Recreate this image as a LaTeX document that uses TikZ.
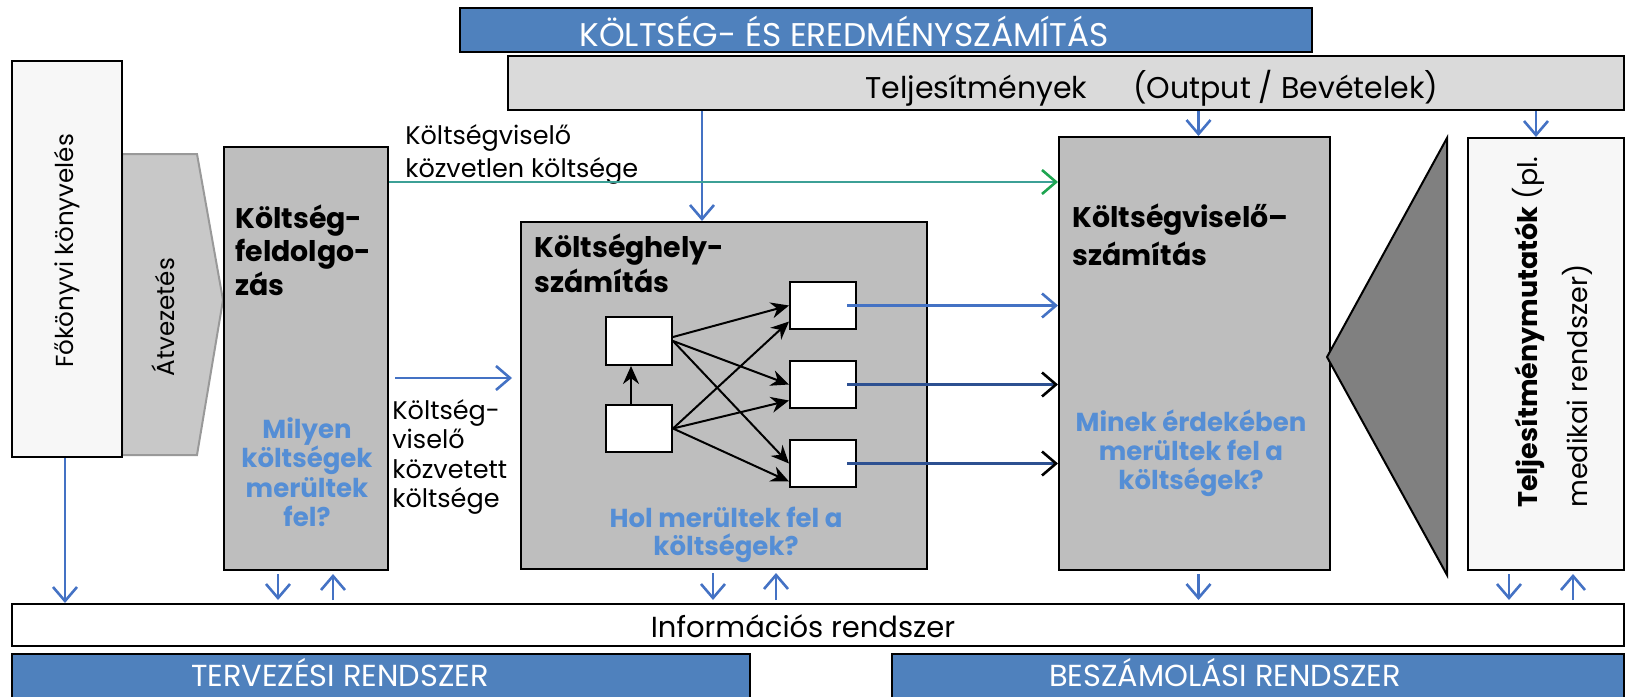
\documentclass[tikz,border=0pt]{standalone}
\usepackage{fontspec}
\setmainfont{Poppins}
\usepackage{tikz}
\usetikzlibrary{arrows.meta,fit}
\definecolor{hdrblue}{RGB}{79,129,189}
\definecolor{arrowblue}{RGB}{68,114,196}
\definecolor{qblue}{RGB}{85,142,213}
\definecolor{boxgray}{RGB}{190,190,190}
\definecolor{bargray}{RGB}{218,218,218}
\definecolor{paper}{RGB}{247,247,247}
\definecolor{atvgray}{RGB}{200,200,200}
\definecolor{trigray}{RGB}{128,128,128}
\definecolor{tealline}{RGB}{60,160,150}
\definecolor{arrowgreen}{RGB}{30,165,80}
\definecolor{darkblue}{RGB}{45,80,145}

\begin{document}
\begin{tikzpicture}[x=0.5pt,y=-0.5pt,
  cellbox/.style={draw=black, line width=1pt, inner sep=0pt},
  graybox/.style={cellbox, fill=boxgray},
  lightbox/.style={cellbox, fill=paper},
  bluebox/.style={cellbox, fill=hdrblue},
  smallbox/.style={cellbox, fill=white},
  capsfont/.style={text=white, inner sep=0pt, font=\fontsize{15.2}{18}\selectfont},
  ttl/.style={anchor=north west, align=left, inner sep=0pt, font=\fontsize{14.2}{#1}\selectfont\bfseries},
  quest/.style={anchor=north, align=center, inner sep=0pt, text=qblue, font=\fontsize{13}{#1}\selectfont\bfseries},
  lbl/.style={anchor=north west, align=left, inner sep=0pt, font=\fontsize{12.75}{#1}\selectfont},
  vtext/.style={rotate=90, inner sep=0pt, font=\fontsize{12.3}{14}\selectfont},
  infoarrow/.style={draw=arrowblue, line width=1.3pt, -{Straight Barb[length=7pt,width=12pt]}},
  darkarrow/.style={draw=darkblue, line width=1.3pt, -{Straight Barb[length=7pt,width=12pt,color=black]}},
  greenarrow/.style={draw=tealline, line width=1.3pt, -{Straight Barb[length=7pt,width=12pt,color=arrowgreen]}},
  flowarrow/.style={draw=black, line width=1pt, -{Stealth[length=9pt,width=8pt]}},
  bothgap/.style={shorten <=1.5pt, shorten >=1.5pt}
]
\useasboundingbox (0,0) rectangle (1627,696);

% Header and output bar
\node[bluebox, fit={(460,8) (1312,52)}] (hdr) {};
\node[capsfont, font=\fontsize{16.4}{18}\selectfont] (hdrT) at (844,31) {KÖLTSÉG- ÉS EREDMÉNYSZÁMÍTÁS};
\node[cellbox, fill=bargray, fit={(508,56) (1624,110)}] (bar) {};
\node[anchor=west, inner sep=0pt, font=\fontsize{15}{18}\selectfont] (barT) at (865,88) {Teljesítmények\hspace{23pt}(Output / Bevételek)};

% General ledger and transfer
\draw[draw=black!40, fill=atvgray, line width=1pt] (122,154) -- (197,154) -- (223,300) -- (197,455) -- (122,455) -- cycle;
\node[lightbox, fit={(12,61) (122,457)}] (fokonyv) {};
\node[vtext] (fokonyvT) at (67,251) {Főkönyvi könyvelés};
\node[vtext] (atvT) at (163,317) {Átvezetés};

% Cost processing
\node[graybox, fit={(224,147) (388,570)}] (kfeld) {};
\node[ttl=16.75] (kfeldT) at (235,204) {Költség-\\feldolgo-\\zás};
\node[quest=14.7] (kfeldQ) at (307,417) {Milyen\\költségek\\merültek\\fel?};

% Labels between the boxes
\node[lbl=16.5] (directL) at (405,124) {Költségviselő\\közvetlen költsége};
\node[lbl=14.7] (indirectL) at (392,399) {Költség-\\viselő\\közvetett\\költsége};

% Cost centre accounting
\node[graybox, fit={(521,222) (927,569)}] (khely) {};
\node[ttl=17.5] (khelyT) at (534,233) {Költséghely-\\számítás};
\node[quest=14] (khelyQ) at (726,507) {Hol merültek fel a\\költségek?};
\node[smallbox, fit={(606,317) (672,365)}] (aux1) {};
\node[smallbox, fit={(606,405) (672,452)}] (aux2) {};
\node[smallbox, fit={(790,282) (856,329)}] (main1) {};
\node[smallbox, fit={(790,361) (856,408)}] (main2) {};
\node[smallbox, fit={(790,440) (856,487)}] (main3) {};
\draw[flowarrow] ([xshift=-4pt]aux2.north) -- ([xshift=-4pt]aux1.south);
\draw[flowarrow] ([yshift=2pt]aux1.east) -- (main1.west);
\draw[flowarrow] (aux1.east) -- (main2.west);
\draw[flowarrow] (aux1.east) -- (main3.west);
\draw[flowarrow] (aux2.east) -- ([yshift=-8pt]main1.west);
\draw[flowarrow] (aux2.east) -- ([yshift=-8pt]main2.west);
\draw[flowarrow] (aux2.east) -- ([yshift=-9pt]main3.west);

% Cost unit accounting
\node[graybox, fit={(1059,137) (1330,570)}] (kvisel) {};
\node[ttl=19] (kviselT) at (1072,203) {Költségviselő–\\számítás};
\node[quest=14.5] (kviselQ) at (1191,409) {Minek érdekében\\merültek fel a\\költségek?};
\draw[draw=black, line width=1pt, fill=trigray] (1447,138) -- (1327,357) -- (1447,575) -- cycle;

% Performance indicators
\node[lightbox, fit={(1468,138) (1624,570)}] (tmut) {};
\node[vtext, anchor=north west, align=left, font=\fontsize{13.5}{25}\selectfont] (tmutT) at (1512,508) {\textbf{Teljesítménymutatók} (pl.\\medikai rendszer)};

% Information system and bottom bars
\node[cellbox, fill=white, fit={(12,604) (1624,646)}] (info) {};
\node[inner sep=0pt, font=\fontsize{14.5}{17}\selectfont] (infoT) at (803,626) {Információs rendszer};
\node[bluebox, fit={(12,654) (750,700)}] (terv) {};
\node[capsfont] (tervT) at (340,673) {TERVEZÉSI RENDSZER};
\node[bluebox, fit={(892,654) (1624,700)}] (besz) {};
\node[capsfont] (beszT) at (1225,673) {BESZÁMOLÁSI RENDSZER};

% Arrows from the output bar
\coordinate (t1) at ([xshift=-11pt]khely.north);
\draw[infoarrow] (t1 |- bar.south) -- (t1);
\coordinate (t2) at ([xshift=2pt]kvisel.north);
\draw[infoarrow] (t2 |- bar.south) -- (t2);
\coordinate (t3) at ([xshift=-5pt]tmut.north);
\draw[infoarrow] (t3 |- bar.south) -- (t3);

% Cost flows
\coordinate (g0) at ([yshift=-18pt]kfeld.north east);
\draw[greenarrow] (g0) -- (g0 -| kvisel.west);
\coordinate (m0) at ([shift={(3pt,-9.75pt)}]kfeld.east);
\coordinate (m1) at (m0 -| khely.west);
\draw[infoarrow] (m0) -- ([xshift=-4pt]m1);
\draw[infoarrow] ([xshift=-5pt]main1.east) -- (main1 -| kvisel.west);
\draw[darkarrow] ([xshift=-5pt]main2.east) -- (main2 -| kvisel.west);
\draw[darkarrow] ([xshift=-5pt]main3.east) -- (main3 -| kvisel.west);

% Arrows to and from the information system
\coordinate (d0) at ([xshift=-1pt]fokonyv.south);
\draw[infoarrow] (d0) -- (d0 |- info.north);
\coordinate (d1) at ([xshift=-14pt]kfeld.south);
\draw[infoarrow, bothgap] (d1) -- (d1 |- info.north);
\coordinate (u1) at ([xshift=13.5pt]kfeld.south);
\draw[infoarrow, bothgap] (u1 |- info.north) -- (u1);
\coordinate (d2) at ([xshift=-5.5pt]khely.south);
\draw[infoarrow, bothgap] (d2) -- (d2 |- info.north);
\coordinate (u2) at ([xshift=26pt]khely.south);
\draw[infoarrow, bothgap] (u2 |- info.north) -- (u2);
\coordinate (d3) at ([xshift=2pt]kvisel.south);
\draw[infoarrow, bothgap] (d3) -- (d3 |- info.north);
\coordinate (d4) at ([xshift=-18.5pt]tmut.south);
\draw[infoarrow, bothgap] (d4) -- (d4 |- info.north);
\coordinate (u4) at ([xshift=13.5pt]tmut.south);
\draw[infoarrow, bothgap] (u4 |- info.north) -- (u4);
\end{tikzpicture}
\end{document}
